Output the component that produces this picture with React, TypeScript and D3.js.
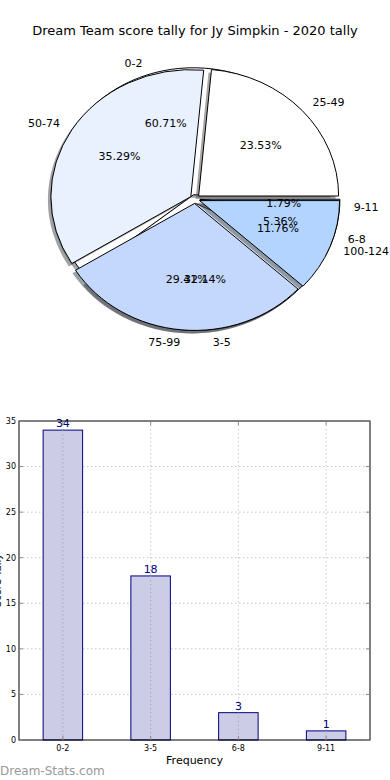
import React, { useEffect, useRef } from 'react';
import * as d3 from 'd3';

// pie 1 (drawn underneath) - score buckets
const scoreLabels = ['0-2', '3-5', '6-8', '9-11'];
const scoreCounts = [34, 18, 3, 1];
// pie 2 (drawn on top) - tally buckets
const tallyLabels = ['25-49', '50-74', '75-99', '100-124'];
const tallyCounts = [4, 6, 5, 2];
const sliceColors = ['#ffffff', '#e9f0fe', '#c4d7fd', '#b2d4fe'];

// bar chart
const barLabels = ['0-2', '3-5', '6-8', '9-11'];
const barValues = [34, 18, 3, 1];
const yTicks = [0, 5, 10, 15, 20, 25, 30, 35];

const FONT = 'DejaVu Sans, sans-serif';

const App = () => {
  const ref = useRef<SVGSVGElement>(null);

  useEffect(() => {
    const svg = d3.select(ref.current);
    svg.selectAll('*').remove();

    //title
    svg.append('text')
      .attr('x', 195).attr('y', 35)
      .attr('text-anchor', 'middle')
      .style('font-family', FONT).style('font-size', '13px')
      .text('Dream Team score tally for Jy Simpkin - 2020 tally');

    //pie geometry
    const cx = 195, cy = 199, rx = 140, ry = 127;
    const explode = 0.035;
    const arc = d3.arc<any>().innerRadius(0).outerRadius(1);

    const drawPie = (labels: string[], counts: number[]) => {
      const total = d3.sum(counts);
      // angles counter-clockwise from 3 o'clock, like matplotlib
      const slices = d3.pie<number>().sort(null)(counts);
      const g = svg.append('g');
      const texts: any[] = [];
      slices.forEach((s, i) => {
        const t0 = s.startAngle, t1 = s.endAngle;
        const mid = (t0 + t1) / 2;
        const ox = explode * rx * Math.cos(mid);
        const oy = -explode * ry * Math.sin(mid);
        const d = arc({ startAngle: Math.PI / 2 - t1, endAngle: Math.PI / 2 - t0 });
        const col = d3.rgb(sliceColors[i % sliceColors.length]);
        //shadow
        g.append('path')
          .attr('d', d)
          .attr('transform', `translate(${cx + ox - 3},${cy + oy + 3}) scale(${rx},${ry})`)
          .attr('fill', d3.rgb(col.r * 0.3, col.g * 0.3, col.b * 0.3).toString())
          .attr('fill-opacity', 0.5);
        g.append('path')
          .attr('d', d)
          .attr('transform', `translate(${cx + ox},${cy + oy}) scale(${rx},${ry})`)
          .attr('fill', col.toString())
          .attr('stroke', '#000')
          .attr('stroke-width', 1)
          .attr('vector-effect', 'non-scaling-stroke');
        const c = Math.cos(mid), sn = Math.sin(mid);
        texts.push({
          x: cx + ox + 1.1 * rx * c, y: cy + oy - 1.1 * ry * sn,
          anchor: c >= 0 ? 'start' : 'end', text: labels[i]
        });
        texts.push({
          x: cx + ox + 0.6 * rx * c, y: cy + oy - 0.6 * ry * sn,
          anchor: 'middle', text: (counts[i] / total * 100).toFixed(2) + '%'
        });
      });
      return texts;
    };

    const t1 = drawPie(scoreLabels, scoreCounts);
    const t2 = drawPie(tallyLabels, tallyCounts);
    svg.append('g').selectAll('text')
      .data(t1.concat(t2))
      .enter().append('text')
        .attr('x', d => d.x).attr('y', d => d.y)
        .attr('dy', '0.35em')
        .attr('text-anchor', d => d.anchor)
        .style('font-family', FONT).style('font-size', '11px')
        .text(d => d.text);

    //bar chart
    const left = 19, right = 370, top = 421, bottom = 740;
    const x = d3.scaleLinear().domain([-0.5, 3.5]).range([left, right]);
    const y = d3.scaleLinear().domain([0, 35]).range([bottom, top]);
    const bw = (x(1) - x(0)) * 0.45;
    const b = svg.append('g');

    //grid
    b.append('g').selectAll('line').data(yTicks.slice(1, -1)).enter().append('line')
      .attr('x1', left).attr('x2', right)
      .attr('y1', d => y(d)).attr('y2', d => y(d))
      .attr('stroke', '#c8c8c8').attr('stroke-dasharray', '1.5,2.5');
    b.append('g').selectAll('line').data(barLabels).enter().append('line')
      .attr('x1', (d, i) => x(i)).attr('x2', (d, i) => x(i))
      .attr('y1', top).attr('y2', bottom)
      .attr('stroke', '#c8c8c8').attr('stroke-dasharray', '1.5,2.5');

    //bars
    b.append('g').selectAll('rect').data(barValues).enter().append('rect')
      .attr('x', (d, i) => x(i) - bw / 2)
      .attr('y', d => y(d))
      .attr('width', bw)
      .attr('height', d => bottom - y(d))
      .attr('fill', '#ccccE6')
      .attr('stroke', '#000080').attr('stroke-width', 1);

    //grid shows through the bars
    b.append('g').selectAll('line').data(barLabels).enter().append('line')
      .attr('x1', (d, i) => x(i)).attr('x2', (d, i) => x(i))
      .attr('y1', (d, i) => y(barValues[i])).attr('y2', bottom)
      .attr('stroke', '#a8a8b8').attr('stroke-dasharray', '1.5,2.5');

    //value labels
    b.append('g').selectAll('text').data(barValues).enter().append('text')
      .attr('x', (d, i) => x(i)).attr('y', d => y(d) - 3)
      .attr('text-anchor', 'middle')
      .attr('fill', '#000080')
      .style('font-family', FONT).style('font-size', '11px')
      .text(d => d);

    //axes frame
    b.append('rect')
      .attr('x', left).attr('y', top)
      .attr('width', right - left).attr('height', bottom - top)
      .attr('fill', 'none').attr('stroke', '#000').attr('stroke-width', 1);

    //y ticks
    const yt = b.append('g');
    yTicks.forEach(t => {
      yt.append('line').attr('x1', left).attr('x2', left + 4).attr('y1', y(t)).attr('y2', y(t)).attr('stroke', '#888');
      yt.append('line').attr('x1', right - 4).attr('x2', right).attr('y1', y(t)).attr('y2', y(t)).attr('stroke', '#888');
      yt.append('text')
        .attr('x', left - 3).attr('y', y(t)).attr('dy', '0.35em')
        .attr('text-anchor', 'end')
        .style('font-family', FONT).style('font-size', '8px')
        .text(t);
    });
    //x ticks
    barLabels.forEach((l, i) => {
      b.append('line').attr('x1', x(i)).attr('x2', x(i)).attr('y1', bottom).attr('y2', bottom - 4).attr('stroke', '#888');
      b.append('line').attr('x1', x(i)).attr('x2', x(i)).attr('y1', top).attr('y2', top + 4).attr('stroke', '#888');
      b.append('text')
        .attr('x', x(i)).attr('y', bottom + 11)
        .attr('text-anchor', 'middle')
        .style('font-family', FONT).style('font-size', '8px')
        .text(l);
    });

    b.append('text')
      .attr('x', (left + right) / 2).attr('y', 764)
      .attr('text-anchor', 'middle')
      .style('font-family', FONT).style('font-size', '11px')
      .text('Frequency');

    b.append('text')
      .attr('transform', `translate(1,${(top + bottom) / 2}) rotate(-90)`)
      .attr('text-anchor', 'middle')
      .style('font-family', FONT).style('font-size', '10px')
      .text('Score Tally');

    //watermark
    svg.append('text')
      .attr('x', 0).attr('y', 775)
      .style('font-family', FONT).style('font-size', '12px')
      .attr('fill', '#999999')
      .text('Dream-Stats.com');
  }, []);

  return (
    <svg ref={ref} width={390} height={780}
      style={{ position: 'absolute', left: 0, top: 0, background: '#fff' }} />
  );
};

export default App;
